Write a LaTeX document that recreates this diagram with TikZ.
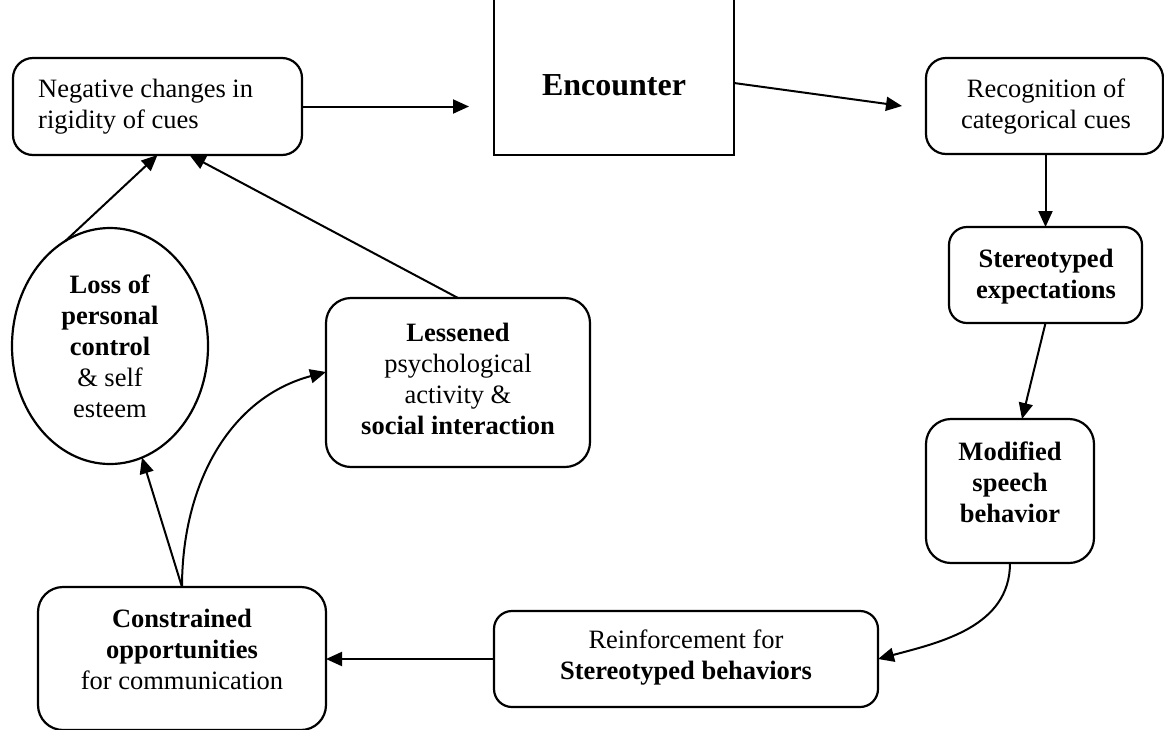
\documentclass[tikz,border=0pt]{standalone}
\usepackage{fontspec}
\setmainfont{Liberation Serif}
\usetikzlibrary{arrows.meta,shapes.geometric}
\newcommand{\tp}{\rule{0pt}{20pt}}
\begin{document}
\begin{tikzpicture}[x=1pt,y=-1pt,
  rbox/.style={draw, line width=2.2pt, inner sep=0pt, outer sep=0pt},
  txt/.style={font=\fontsize{26.5}{31}\selectfont, align=center, anchor=north, inner sep=0pt},
  arr/.style={-{Triangle[length=16pt,width=14pt]}, line width=2pt}]
\useasboundingbox (0,0) rectangle (1164,729);
\clip (0,0) rectangle (1164,729);

% boxes
\node[rbox, rounded corners=20pt, minimum width=289pt, minimum height=97pt] (neg) at (157.5,106.5) {};
\node[rbox, minimum width=240pt, minimum height=170pt] (enc) at (614,70) {};
\node[rbox, rounded corners=20pt, minimum width=237pt, minimum height=96pt] (rec) at (1044.5,106) {};
\node[rbox, rounded corners=18pt, minimum width=193pt, minimum height=96pt] (ste) at (1045.5,275) {};
\node[rbox, rounded corners=25pt, minimum width=168pt, minimum height=144pt] (mod) at (1010,491) {};
\node[rbox, rounded corners=18pt, minimum width=384pt, minimum height=96pt] (rei) at (686,659) {};
\node[rbox, rounded corners=25pt, minimum width=288pt, minimum height=143pt] (con) at (182,658.5) {};
\node[rbox, rounded corners=25pt, minimum width=264pt, minimum height=169pt] (les) at (458,382.5) {};
\node[rbox, ellipse, minimum width=196pt, minimum height=236pt] (ell) at (110,346) {};

% texts
\node[txt, anchor=north west, align=left] (negt) at (38,77) {\tp Negative changes in\\rigidity of cues};
\node[txt, font=\fontsize{32}{37}\selectfont\bfseries] (enct) at (614,71) {\rule{0pt}{24pt}Encounter};
\node[txt] (rect) at (1046,77) {\tp Recognition of\\categorical cues};
\node[txt] (stet) at (1046,247) {\tp\textbf{Stereotyped}\\\textbf{expectations}};
\node[txt] (modt) at (1010,440) {\tp\textbf{Modified}\\\textbf{speech}\\\textbf{behavior}};
\node[txt] (reit) at (686,628) {\tp Reinforcement for\\\textbf{Stereotyped behaviors}};
\node[txt] (cont) at (182,607) {\tp\textbf{Constrained}\\\textbf{opportunities}\\for communication};
\node[txt] (lest) at (458,321) {\tp\textbf{Lessened}\\psychological\\activity \&\\\textbf{social interaction}};
\node[txt] (ellt) at (110,273) {\tp\textbf{Loss of}\\\textbf{personal}\\\textbf{control}\\\& self\\esteem};

% connectors
\draw[arr, shorten >=25pt] (neg.east) -- (neg.east -| enc.west);
\draw[arr] ([yshift=-13pt]enc.east) -- ([xshift=-24pt]rec.west);
\draw[arr] (ste.north |- rec.south) -- (ste.north);
\draw[arr] (ste.south) -- ([xshift=12pt]mod.north);
\draw[arr] (mod.south) to[out=-90, in=15] (rei.east);
\draw[arr] (rei.west) -- (rei.west -| con.east);
\draw[arr] (con.north) -- (ell.-74);
\draw[arr] (con.north) to[out=90, in=195] ([yshift=10.5pt]les.west);
\draw[arr] (ell.113) -- (neg.south);
\draw[arr] (les.north) -- ([xshift=32pt]neg.south);
\end{tikzpicture}
\end{document}
